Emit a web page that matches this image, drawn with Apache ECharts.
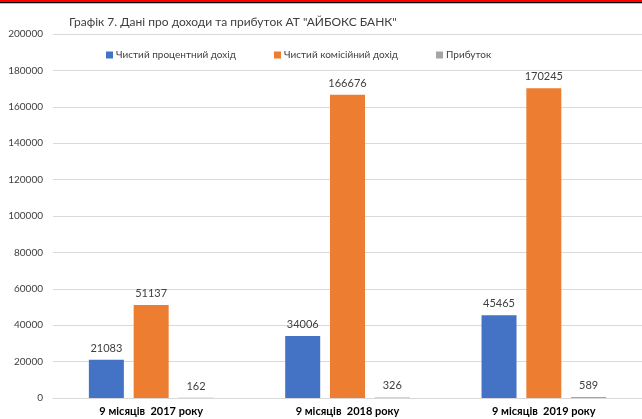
<!DOCTYPE html>
<html><head><meta charset="utf-8">
<script src="https://cdn.jsdelivr.net/npm/echarts@6/dist/echarts.min.js"></script>
<style>html,body{margin:0;padding:0;background:#fff}#c{width:642px;height:419px}</style>
</head><body><div id="c"></div>
<script>
const categories = ['9 місяців  2017 року', '9 місяців  2018 року', '9 місяців  2019 року'];
const seriesNames = ['Чистий процентний дохід', 'Чистий комісійний дохід', 'Прибуток'];
const interestIncome = [21083, 34006, 45465];
const commissionIncome = [51137, 166676, 170245];
const profit = [162, 326, 589];
const colors = ['#4472C4', '#ED7D31', '#A5A5A5'];

const chart = echarts.init(document.getElementById('c'));
const font = 'Lato, "Liberation Sans", sans-serif';
const values = [interestIncome, commissionIncome, profit];
const legendLefts = [101, 269, 431];
chart.setOption({
  animation: false,
  textStyle: { fontFamily: font },
  title: {
    text: 'Графік 7. Дані про доходи та прибуток АТ "АЙБОКС БАНК"',
    left: 64, top: 11,
    textStyle: { fontSize: 12, fontWeight: 'normal', color: '#404040', fontFamily: font }
  },
  graphic: [
    { type: 'rect', shape: { x: 0, y: 0, width: 642, height: 2 }, style: { fill: '#FF0000' } },
    { type: 'rect', shape: { x: 0, y: 2, width: 642, height: 1.3 }, style: { fill: '#000000' } }
  ],
  legend: seriesNames.map((n, i) => ({
    data: [n], left: legendLefts[i], top: 45,
    itemWidth: 7, itemHeight: 7, itemGap: 4,
    icon: 'rect',
    textStyle: { fontSize: 10, color: '#404040', fontFamily: font, padding: [0, 0, 0, -2] }
  })),
  grid: { left: 53, right: 0, top: 34, bottom: 21, containLabel: false },
  xAxis: {
    type: 'category', data: categories,
    axisTick: { show: false },
    axisLine: { lineStyle: { color: '#D9D9D9' } },
    axisLabel: { fontSize: 11, fontWeight: 'bold', color: '#000', margin: 8, fontFamily: font }
  },
  yAxis: {
    type: 'value', min: 0, max: 200000, interval: 20000,
    axisLabel: { fontSize: 10, color: '#404040', margin: 10, fontFamily: font, formatter: v => String(v) },
    splitLine: { lineStyle: { color: '#D9D9D9' } },
    axisLine: { show: false }, axisTick: { show: false }
  },
  series: seriesNames.map((n, i) => ({
    name: n, type: 'bar', data: values[i],
    itemStyle: { color: colors[i] },
    barWidth: 35, barGap: '28%',
    label: { show: true, position: 'top', distance: 6, fontSize: 11, color: '#404040', fontFamily: font }
  }))
});
</script></body></html>
